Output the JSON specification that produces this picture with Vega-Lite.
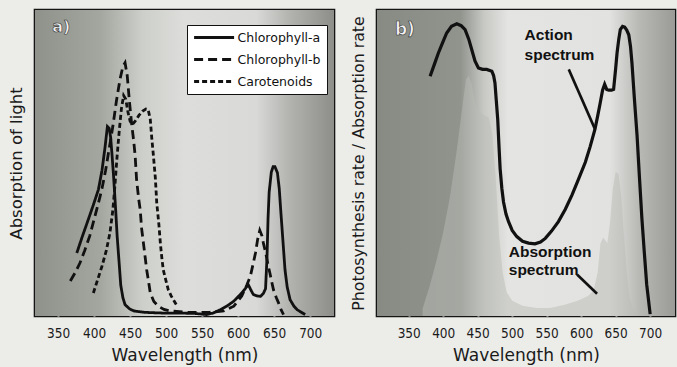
{
  "$schema": "https://vega.github.io/schema/vega-lite/v6.json",
  "background": "#ecece9",
  "padding": {"left": 6, "top": 8, "right": 2, "bottom": 2},
  "spacing": 13,
  "config": {
    "view": {"stroke": "#151515", "strokeWidth": 2.6},
    "axis": {"grid": false, "domain": false, "titleFont": "DejaVu Sans", "titleFontWeight": "normal", "titleColor": "#1a1a1a", "labelColor": "#1a1a1a"}
  },
  "datasets": {
    "absA": [
      {"s":"Chlorophyll-a","nm":376,"v":1.73},{"s":"Chlorophyll-a","nm":384,"v":2.2},{"s":"Chlorophyll-a","nm":392,"v":2.65},{"s":"Chlorophyll-a","nm":399,"v":3.05},{"s":"Chlorophyll-a","nm":406,"v":3.47},{"s":"Chlorophyll-a","nm":411,"v":4.0},{"s":"Chlorophyll-a","nm":415,"v":4.6},{"s":"Chlorophyll-a","nm":418.5,"v":5.2},{"s":"Chlorophyll-a","nm":421,"v":5.15},{"s":"Chlorophyll-a","nm":423,"v":4.9},{"s":"Chlorophyll-a","nm":425,"v":4.4},{"s":"Chlorophyll-a","nm":427,"v":3.85},{"s":"Chlorophyll-a","nm":430,"v":2.9},{"s":"Chlorophyll-a","nm":432,"v":2.2},{"s":"Chlorophyll-a","nm":435,"v":1.4},{"s":"Chlorophyll-a","nm":437,"v":0.85},{"s":"Chlorophyll-a","nm":440,"v":0.5},{"s":"Chlorophyll-a","nm":443,"v":0.31},{"s":"Chlorophyll-a","nm":449,"v":0.2},{"s":"Chlorophyll-a","nm":455,"v":0.14},{"s":"Chlorophyll-a","nm":470,"v":0.1},{"s":"Chlorophyll-a","nm":496,"v":0.08},{"s":"Chlorophyll-a","nm":520,"v":0.08},{"s":"Chlorophyll-a","nm":540,"v":0.07},{"s":"Chlorophyll-a","nm":556,"v":0.04},{"s":"Chlorophyll-a","nm":565,"v":0.08},{"s":"Chlorophyll-a","nm":575,"v":0.17},{"s":"Chlorophyll-a","nm":585,"v":0.28},{"s":"Chlorophyll-a","nm":594,"v":0.41},{"s":"Chlorophyll-a","nm":601,"v":0.55},{"s":"Chlorophyll-a","nm":607,"v":0.68},{"s":"Chlorophyll-a","nm":614,"v":0.86},{"s":"Chlorophyll-a","nm":618,"v":0.7},{"s":"Chlorophyll-a","nm":621,"v":0.59},{"s":"Chlorophyll-a","nm":626,"v":0.55},{"s":"Chlorophyll-a","nm":631,"v":0.54},{"s":"Chlorophyll-a","nm":635,"v":0.62},{"s":"Chlorophyll-a","nm":638,"v":0.75},{"s":"Chlorophyll-a","nm":640,"v":1.6},{"s":"Chlorophyll-a","nm":641.5,"v":2.7},{"s":"Chlorophyll-a","nm":643,"v":3.4},{"s":"Chlorophyll-a","nm":646,"v":3.95},{"s":"Chlorophyll-a","nm":648.5,"v":4.1},{"s":"Chlorophyll-a","nm":651,"v":4.1},{"s":"Chlorophyll-a","nm":654.5,"v":3.93},{"s":"Chlorophyll-a","nm":657,"v":3.5},{"s":"Chlorophyll-a","nm":659,"v":2.92},{"s":"Chlorophyll-a","nm":662,"v":2.1},{"s":"Chlorophyll-a","nm":665,"v":1.27},{"s":"Chlorophyll-a","nm":668,"v":0.8},{"s":"Chlorophyll-a","nm":672,"v":0.45},{"s":"Chlorophyll-a","nm":677,"v":0.28},{"s":"Chlorophyll-a","nm":682,"v":0.17},{"s":"Chlorophyll-a","nm":693,"v":0.04},
      {"s":"Chlorophyll-b","nm":367,"v":0.96},{"s":"Chlorophyll-b","nm":374,"v":1.2},{"s":"Chlorophyll-b","nm":380.5,"v":1.46},{"s":"Chlorophyll-b","nm":387,"v":1.8},{"s":"Chlorophyll-b","nm":394,"v":2.2},{"s":"Chlorophyll-b","nm":400,"v":2.65},{"s":"Chlorophyll-b","nm":406,"v":3.1},{"s":"Chlorophyll-b","nm":411,"v":3.5},{"s":"Chlorophyll-b","nm":416,"v":4.0},{"s":"Chlorophyll-b","nm":421,"v":4.6},{"s":"Chlorophyll-b","nm":426,"v":5.2},{"s":"Chlorophyll-b","nm":431,"v":5.9},{"s":"Chlorophyll-b","nm":436,"v":6.5},{"s":"Chlorophyll-b","nm":440,"v":6.85},{"s":"Chlorophyll-b","nm":443,"v":6.95},{"s":"Chlorophyll-b","nm":446,"v":6.6},{"s":"Chlorophyll-b","nm":449,"v":5.9},{"s":"Chlorophyll-b","nm":452,"v":5.3},{"s":"Chlorophyll-b","nm":455,"v":4.8},{"s":"Chlorophyll-b","nm":457,"v":4.4},{"s":"Chlorophyll-b","nm":459,"v":3.74},{"s":"Chlorophyll-b","nm":462,"v":3.2},{"s":"Chlorophyll-b","nm":464,"v":2.92},{"s":"Chlorophyll-b","nm":466,"v":2.4},{"s":"Chlorophyll-b","nm":468.5,"v":2.0},{"s":"Chlorophyll-b","nm":471,"v":1.6},{"s":"Chlorophyll-b","nm":473,"v":1.27},{"s":"Chlorophyll-b","nm":476,"v":0.9},{"s":"Chlorophyll-b","nm":478,"v":0.63},{"s":"Chlorophyll-b","nm":483,"v":0.4},{"s":"Chlorophyll-b","nm":489,"v":0.27},{"s":"Chlorophyll-b","nm":497,"v":0.18},{"s":"Chlorophyll-b","nm":505,"v":0.14},{"s":"Chlorophyll-b","nm":530,"v":0.1},{"s":"Chlorophyll-b","nm":560,"v":0.1},{"s":"Chlorophyll-b","nm":580,"v":0.14},{"s":"Chlorophyll-b","nm":594,"v":0.27},{"s":"Chlorophyll-b","nm":605,"v":0.55},{"s":"Chlorophyll-b","nm":612,"v":0.85},{"s":"Chlorophyll-b","nm":617,"v":1.1},{"s":"Chlorophyll-b","nm":621,"v":1.45},{"s":"Chlorophyll-b","nm":624,"v":1.73},{"s":"Chlorophyll-b","nm":627,"v":2.1},{"s":"Chlorophyll-b","nm":630,"v":2.35},{"s":"Chlorophyll-b","nm":633,"v":2.2},{"s":"Chlorophyll-b","nm":635,"v":2.0},{"s":"Chlorophyll-b","nm":638,"v":1.75},{"s":"Chlorophyll-b","nm":640,"v":1.55},{"s":"Chlorophyll-b","nm":642,"v":1.35},{"s":"Chlorophyll-b","nm":644,"v":1.18},{"s":"Chlorophyll-b","nm":647,"v":0.9},{"s":"Chlorophyll-b","nm":649,"v":0.72},{"s":"Chlorophyll-b","nm":653,"v":0.5},{"s":"Chlorophyll-b","nm":656,"v":0.36},{"s":"Chlorophyll-b","nm":660,"v":0.15},{"s":"Chlorophyll-b","nm":663,"v":0.04},
      {"s":"Carotenoids","nm":399,"v":0.63},{"s":"Carotenoids","nm":405,"v":1.0},{"s":"Carotenoids","nm":411,"v":1.37},{"s":"Carotenoids","nm":417,"v":1.8},{"s":"Carotenoids","nm":422,"v":2.28},{"s":"Carotenoids","nm":426,"v":2.9},{"s":"Carotenoids","nm":429,"v":3.6},{"s":"Carotenoids","nm":432,"v":4.4},{"s":"Carotenoids","nm":435,"v":5.1},{"s":"Carotenoids","nm":438,"v":5.7},{"s":"Carotenoids","nm":441,"v":6.05},{"s":"Carotenoids","nm":444,"v":5.95},{"s":"Carotenoids","nm":447,"v":5.6},{"s":"Carotenoids","nm":450,"v":5.35},{"s":"Carotenoids","nm":453,"v":5.25},{"s":"Carotenoids","nm":457,"v":5.35},{"s":"Carotenoids","nm":462,"v":5.5},{"s":"Carotenoids","nm":467,"v":5.62},{"s":"Carotenoids","nm":472,"v":5.68},{"s":"Carotenoids","nm":475,"v":5.67},{"s":"Carotenoids","nm":478,"v":5.4},{"s":"Carotenoids","nm":480,"v":4.9},{"s":"Carotenoids","nm":482,"v":4.48},{"s":"Carotenoids","nm":485,"v":3.8},{"s":"Carotenoids","nm":487,"v":3.1},{"s":"Carotenoids","nm":490,"v":2.5},{"s":"Carotenoids","nm":492,"v":2.0},{"s":"Carotenoids","nm":494,"v":1.6},{"s":"Carotenoids","nm":496,"v":1.27},{"s":"Carotenoids","nm":500,"v":0.95},{"s":"Carotenoids","nm":503,"v":0.72},{"s":"Carotenoids","nm":507,"v":0.55},{"s":"Carotenoids","nm":510,"v":0.45},{"s":"Carotenoids","nm":516,"v":0.25}
    ],
    "action": [
      {"nm":381,"v":6.58},{"nm":387,"v":6.9},{"nm":393,"v":7.22},{"nm":399,"v":7.5},{"nm":405,"v":7.77},{"nm":412,"v":7.95},{"nm":419.7,"v":8.02},{"nm":426,"v":7.97},{"nm":431.7,"v":7.86},{"nm":437,"v":7.6},{"nm":441.4,"v":7.31},{"nm":446,"v":7.0},{"nm":451,"v":6.81},{"nm":457,"v":6.77},{"nm":463,"v":6.77},{"nm":470.5,"v":6.72},{"nm":473,"v":6.6},{"nm":475,"v":6.4},{"nm":477,"v":5.9},{"nm":479,"v":5.4},{"nm":481,"v":4.6},{"nm":482.5,"v":4.04},{"nm":485,"v":3.5},{"nm":487.4,"v":3.13},{"nm":491,"v":2.8},{"nm":494.7,"v":2.59},{"nm":500,"v":2.35},{"nm":506.7,"v":2.18},{"nm":515,"v":2.05},{"nm":523.7,"v":2.0},{"nm":533,"v":1.98},{"nm":541,"v":2.03},{"nm":548,"v":2.13},{"nm":557,"v":2.33},{"nm":567,"v":2.59},{"nm":577,"v":2.93},{"nm":586.6,"v":3.32},{"nm":596,"v":3.75},{"nm":606,"v":4.22},{"nm":613,"v":4.65},{"nm":620,"v":5.13},{"nm":624,"v":5.5},{"nm":627.7,"v":5.86},{"nm":631,"v":6.2},{"nm":634,"v":6.36},{"nm":637,"v":6.22},{"nm":640,"v":6.2},{"nm":644,"v":6.2},{"nm":647,"v":6.22},{"nm":650,"v":6.8},{"nm":652,"v":7.22},{"nm":654.5,"v":7.6},{"nm":656.7,"v":7.86},{"nm":660,"v":7.95},{"nm":663,"v":7.93},{"nm":666,"v":7.85},{"nm":669,"v":7.72},{"nm":671.5,"v":7.4},{"nm":673.6,"v":6.95},{"nm":677,"v":6.0},{"nm":681,"v":4.96},{"nm":684.5,"v":3.8},{"nm":688,"v":2.68},{"nm":691.5,"v":1.75},{"nm":695,"v":0.86},{"nm":700,"v":0.05}
    ],
    "absorb": [
      {"nm":370,"v":0.2},{"nm":380,"v":0.8},{"nm":390,"v":1.5},{"nm":400,"v":2.3},{"nm":410,"v":3.3},{"nm":420,"v":4.6},{"nm":428,"v":5.8},{"nm":433,"v":6.5},{"nm":437,"v":6.6},{"nm":441,"v":6.4},{"nm":446,"v":5.9},{"nm":452,"v":5.6},{"nm":460,"v":5.5},{"nm":466,"v":5.45},{"nm":471,"v":5.0},{"nm":476,"v":3.8},{"nm":481,"v":2.2},{"nm":486,"v":1.2},{"nm":492,"v":0.65},{"nm":500,"v":0.42},{"nm":515,"v":0.28},{"nm":535,"v":0.22},{"nm":555,"v":0.22},{"nm":575,"v":0.3},{"nm":595,"v":0.42},{"nm":610,"v":0.55},{"nm":618,"v":0.7},{"nm":624,"v":1.2},{"nm":628,"v":2.0},{"nm":632,"v":2.15},{"nm":638,"v":2.0},{"nm":642,"v":2.6},{"nm":646,"v":3.5},{"nm":650,"v":3.95},{"nm":654,"v":3.9},{"nm":658,"v":3.3},{"nm":662,"v":2.2},{"nm":666,"v":1.2},{"nm":670,"v":0.5},{"nm":676,"v":0.15},{"nm":682,"v":0.0}
    ],
    "notes": [
      {"t":"Action","nm":518,"v":7.71},{"t":"spectrum","nm":518,"v":7.16},{"t":"Absorption","nm":495,"v":1.76},{"t":"spectrum","nm":495,"v":1.26}
    ],
    "pointers": [
      {"nm":582,"v":6.77,"nm2":620,"v2":5.13},{"nm":594,"v":1.14,"nm2":623,"v2":0.61}
    ]
  },
  "hconcat": [
    {
      "width": 299,
      "height": 306,
      "layer": [
        {
          "data": {"values": [{}]},
          "mark": {"type": "rect", "fill": {"gradient": "linear", "x1": 0, "y1": 0, "x2": 1, "y2": 0, "stops": [{"offset": 0, "color": "#8f928b"}, {"offset": 0.22, "color": "#a4a7a0"}, {"offset": 0.36, "color": "#cdcfca"}, {"offset": 0.5, "color": "#dddedb"}, {"offset": 0.74, "color": "#d9dad7"}, {"offset": 0.85, "color": "#b3b4b0"}, {"offset": 1, "color": "#8d8e8a"}]}},
          "encoding": {}
        },
        {
          "data": {"name": "absA"},
          "mark": {"type": "line", "color": "#111111", "strokeWidth": 2.8},
          "encoding": {
            "x": {"field": "nm", "type": "quantitative", "scale": {"domain": [318, 733], "nice": false, "zero": false}, "axis": {"values": [350, 400, 450, 500, 550, 600, 650, 700], "tickColor": "#f4f4f4", "tickSize": -7, "tickWidth": 2, "labelFont": "Liberation Sans Narrow, DejaVu Sans Condensed, sans-serif", "labelFontSize": 13.5, "labelPadding": 17, "title": "Wavelength (nm)", "titleFontSize": 17, "titlePadding": 8}},
            "y": {"field": "v", "type": "quantitative", "scale": {"domain": [0, 8.4], "nice": false, "zero": false}, "axis": {"values": [1, 2, 3, 4, 5, 6, 7, 8], "labels": false, "tickColor": "#f4f4f4", "tickSize": -7, "tickWidth": 2, "title": "Absorption of light", "titleFontSize": 16.5, "titlePadding": 10}},
            "strokeDash": {"field": "s", "type": "nominal", "scale": {"domain": ["Chlorophyll-a", "Chlorophyll-b", "Carotenoids"], "range": [[1, 0], [9, 5], [5, 3]]}, "legend": {"title": null, "orient": "none", "legendX": 152, "legendY": 15, "padding": 6, "fillColor": "#ffffff", "strokeColor": "#111111", "symbolType": "M-4,0H4", "symbolSize": 100, "symbolStrokeWidth": 2.8, "symbolStrokeColor": "#111111", "symbolFillColor": "transparent", "symbolOffset": 14.6, "labelOffset": 17, "labelFont": "DejaVu Sans", "labelFontSize": 12.5, "labelColor": "#111111", "rowPadding": 9}}
          }
        },
        {
          "data": {"values": [{"t": "a)", "nm": 342, "v": 7.93}]},
          "mark": {"type": "text", "align": "left", "baseline": "middle", "font": "DejaVu Sans", "fontSize": 16, "fontWeight": "bold", "fill": "#f2f2f2", "stroke": "#333333", "strokeWidth": 0.6},
          "encoding": {
            "x": {"field": "nm", "type": "quantitative", "scale": {"domain": [318, 733], "nice": false, "zero": false}},
            "y": {"field": "v", "type": "quantitative", "scale": {"domain": [0, 8.4], "nice": false, "zero": false}},
            "text": {"field": "t"}
          }
        }
      ]
    },
    {
      "width": 298,
      "height": 306,
      "layer": [
        {
          "data": {"values": [{}]},
          "mark": {"type": "rect", "fill": {"gradient": "linear", "x1": 0, "y1": 0, "x2": 1, "y2": 0, "stops": [{"offset": 0, "color": "#878b84"}, {"offset": 0.28, "color": "#90948d"}, {"offset": 0.36, "color": "#c8c9c5"}, {"offset": 0.44, "color": "#e4e5e2"}, {"offset": 0.78, "color": "#e2e2e0"}, {"offset": 0.88, "color": "#b8b9b5"}, {"offset": 1, "color": "#9a9b97"}]}},
          "encoding": {}
        },
        {
          "data": {"name": "absorb"},
          "mark": {"type": "area", "fill": "#b9bbb6", "opacity": 0.5},
          "encoding": {
            "x": {"field": "nm", "type": "quantitative", "scale": {"domain": [304, 736], "nice": false, "zero": false}},
            "y": {"field": "v", "type": "quantitative", "scale": {"domain": [0, 8.4], "nice": false, "zero": false}}
          }
        },
        {
          "data": {"name": "action"},
          "mark": {"type": "line", "color": "#111111", "strokeWidth": 3.2},
          "encoding": {
            "x": {"field": "nm", "type": "quantitative", "scale": {"domain": [304, 736], "nice": false, "zero": false}, "axis": {"values": [350, 400, 450, 500, 550, 600, 650, 700], "tickColor": "#f4f4f4", "tickSize": -7, "tickWidth": 2, "labelFont": "Liberation Sans Narrow, DejaVu Sans Condensed, sans-serif", "labelFontSize": 13.5, "labelPadding": 17, "title": "Wavelength (nm)", "titleFontSize": 17, "titlePadding": 8}},
            "y": {"field": "v", "type": "quantitative", "scale": {"domain": [0, 8.4], "nice": false, "zero": false}, "axis": {"values": [1, 2, 3, 4, 5, 6, 7, 8], "labels": false, "tickColor": "#f4f4f4", "tickSize": -7, "tickWidth": 2, "title": "Photosynthesis rate / Absorption rate", "titleFontSize": 15.8, "titlePadding": 9.5}}
          }
        },
        {
          "data": {"name": "pointers"},
          "mark": {"type": "rule", "color": "#111111", "strokeWidth": 2.6},
          "encoding": {
            "x": {"field": "nm", "type": "quantitative", "scale": {"domain": [304, 736], "nice": false, "zero": false}},
            "y": {"field": "v", "type": "quantitative", "scale": {"domain": [0, 8.4], "nice": false, "zero": false}},
            "x2": {"field": "nm2"},
            "y2": {"field": "v2"}
          }
        },
        {
          "data": {"name": "notes"},
          "mark": {"type": "text", "align": "left", "baseline": "middle", "font": "Liberation Sans", "fontSize": 15.5, "fontWeight": "bold", "color": "#111111"},
          "encoding": {
            "x": {"field": "nm", "type": "quantitative", "scale": {"domain": [304, 736], "nice": false, "zero": false}},
            "y": {"field": "v", "type": "quantitative", "scale": {"domain": [0, 8.4], "nice": false, "zero": false}},
            "text": {"field": "t"}
          }
        },
        {
          "data": {"values": [{"t": "b)", "nm": 330, "v": 7.85}]},
          "mark": {"type": "text", "align": "left", "baseline": "middle", "font": "DejaVu Sans", "fontSize": 17, "fontWeight": "bold", "fill": "#f2f2f2", "stroke": "#333333", "strokeWidth": 0.6},
          "encoding": {
            "x": {"field": "nm", "type": "quantitative", "scale": {"domain": [304, 736], "nice": false, "zero": false}},
            "y": {"field": "v", "type": "quantitative", "scale": {"domain": [0, 8.4], "nice": false, "zero": false}},
            "text": {"field": "t"}
          }
        }
      ]
    }
  ]
}
